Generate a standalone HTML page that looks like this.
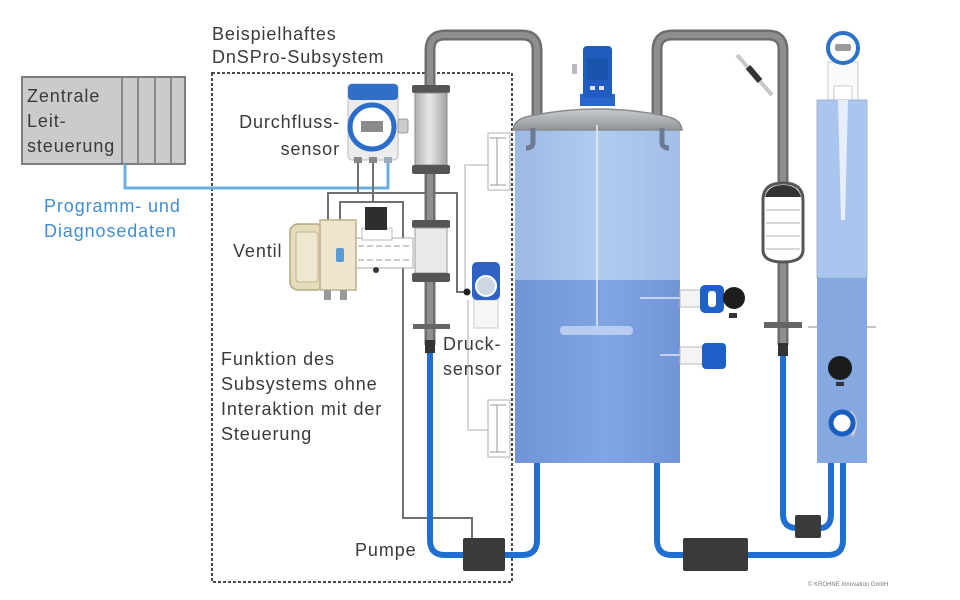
<!DOCTYPE html>
<html><head><meta charset="utf-8"><style>
html,body{margin:0;padding:0;background:#fff;}
svg{display:block;}
text{font-family:"Liberation Sans",Arial,sans-serif;font-size:18px;fill:#3a3a3a;letter-spacing:0.9px;}
.b{fill:#3f8fd6;}
</style></head><body>
<svg width="960" height="600" viewBox="0 0 960 600" xmlns="http://www.w3.org/2000/svg">
<defs>
<linearGradient id="tu" x1="0" x2="1" y1="0" y2="0"><stop offset="0" stop-color="#9cb8e4"/><stop offset="0.5" stop-color="#b2cbef"/><stop offset="1" stop-color="#a2bde8"/></linearGradient>
<linearGradient id="tl" x1="0" x2="1" y1="0" y2="0"><stop offset="0" stop-color="#7094d4"/><stop offset="0.55" stop-color="#81a5e4"/><stop offset="1" stop-color="#7195d6"/></linearGradient>
<linearGradient id="fm" x1="0" x2="1" y1="0" y2="0"><stop offset="0" stop-color="#b0b0b0"/><stop offset="0.45" stop-color="#e8e8e8"/><stop offset="1" stop-color="#a2a2a2"/></linearGradient>
<linearGradient id="lid" x1="0" x2="0" y1="0" y2="1"><stop offset="0" stop-color="#c9ccd0"/><stop offset="1" stop-color="#8f949a"/></linearGradient>
</defs>

<!-- dashed subsystem box -->
<rect x="212" y="73" width="300" height="509" fill="none" stroke="#4a4a4a" stroke-width="2" stroke-dasharray="3 2"/>

<!-- central control -->
<rect x="22" y="77" width="163" height="87" fill="#cbcbcb" stroke="#7e7e7e" stroke-width="2"/>
<g stroke="#8a8a8a" stroke-width="2">
<line x1="122" y1="78" x2="122" y2="163"/><line x1="138" y1="78" x2="138" y2="163"/>
<line x1="155" y1="78" x2="155" y2="163"/><line x1="171" y1="78" x2="171" y2="163"/>
</g>
<path d="M125 164 V188 H388 V160" fill="none" stroke="#6aaee0" stroke-width="3"/>

<!-- grey signal lines -->
<g fill="none" stroke="#6f6f6f" stroke-width="2">
<path d="M358 160 V193"/><path d="M328 225 V193 H457 V292 H468"/>
<path d="M373 160 V202"/><path d="M340 222 V202 H403 V518 H472 V538"/>
</g>
<path d="M490 165 H465 V292 M468 300 V430 H490" fill="none" stroke="#c9c9c9" stroke-width="1.5"/>

<!-- level switches -->
<g fill="#fff" stroke="#bdbdbd" stroke-width="1.2">
<rect x="488" y="133" width="22" height="57"/><rect x="488" y="400" width="22" height="57"/>
</g>
<g stroke="#999" stroke-width="1">
<line x1="497" y1="138" x2="497" y2="185"/><line x1="490" y1="138" x2="506" y2="138"/><line x1="490" y1="185" x2="506" y2="185"/>
<line x1="497" y1="405" x2="497" y2="452"/><line x1="490" y1="405" x2="506" y2="405"/><line x1="490" y1="452" x2="506" y2="452"/>
</g>

<!-- blue pipes -->
<g fill="none" stroke="#1f6fd1" stroke-width="6">
<path d="M430 352 V540 Q430 555 445 555 H463"/>
<path d="M505 555 H522 Q537 555 537 540 V462"/>
<path d="M657 462 V540 Q657 555 672 555 H683"/>
<path d="M748 555 H828 Q843 555 843 540 V462"/>
<path d="M783 355 V514 Q783 528 797 528"/>
<path d="M820 528 H820 Q831 528 831 514 V462"/>
</g>

<!-- grey pipes -->
<g fill="none" stroke-linejoin="round">
<path d="M430 345 V50 Q430 35 445 35 H522 Q537 35 537 50 V118" stroke="#6e6e6e" stroke-width="11"/>
<path d="M430 345 V50 Q430 35 445 35 H522 Q537 35 537 50 V118" stroke="#8e8e8e" stroke-width="6"/>
<path d="M657 118 V50 Q657 35 672 35 H768 Q783 35 783 50 V345" stroke="#6e6e6e" stroke-width="11"/>
<path d="M657 118 V50 Q657 35 672 35 H768 Q783 35 783 50 V345" stroke="#8e8e8e" stroke-width="6"/>
</g>
<rect x="425" y="340" width="10" height="13" fill="#333"/>
<rect x="778" y="343" width="10" height="13" fill="#333"/>

<!-- flow meter body -->
<rect x="412" y="85" width="38" height="8" rx="2" fill="#555"/>
<rect x="415" y="93" width="32" height="72" fill="url(#fm)" stroke="#888" stroke-width="1"/>
<rect x="412" y="165" width="38" height="9" rx="2" fill="#555"/>
<!-- valve body -->
<rect x="412" y="220" width="38" height="8" rx="2" fill="#555"/>
<rect x="415" y="228" width="32" height="45" fill="#eaeaea" stroke="#999" stroke-width="1"/>
<rect x="412" y="273" width="38" height="9" rx="2" fill="#555"/>
<!-- lower flange -->
<rect x="413" y="324" width="37" height="5" fill="#666"/>

<!-- valve actuator -->
<rect x="356" y="238" width="57" height="30" fill="#fff" stroke="#aaa" stroke-width="1"/>
<g stroke="#999" stroke-width="1" stroke-dasharray="6 3"><line x1="358" y1="246" x2="410" y2="246"/><line x1="358" y1="260" x2="410" y2="260"/></g>
<rect x="290" y="224" width="34" height="66" rx="8" fill="#e6dcbb" stroke="#b3a680" stroke-width="1.5"/>
<rect x="296" y="232" width="22" height="50" rx="3" fill="#efe8d0" stroke="#c2b690"/>
<rect x="320" y="220" width="36" height="70" fill="#eee7ce" stroke="#bdb08a" stroke-width="1.5"/>
<rect x="336" y="248" width="8" height="14" rx="2" fill="#5b9bd5"/>
<rect x="324" y="290" width="7" height="10" fill="#999"/><rect x="340" y="290" width="7" height="10" fill="#999"/>
<rect x="362" y="228" width="30" height="12" fill="#fff" stroke="#bbb"/>
<rect x="365" y="207" width="22" height="23" fill="#2e2e2e"/>
<circle cx="376" cy="270" r="3" fill="#333"/>

<!-- flow transmitter -->
<rect x="348" y="84" width="50" height="76" rx="4" fill="#ececec" stroke="#bdbdbd"/>
<rect x="348" y="84" width="50" height="16" rx="4" fill="#2f6fc8"/>
<rect x="398" y="119" width="10" height="14" rx="2" fill="#ccc" stroke="#999"/>
<circle cx="372" cy="127" r="22" fill="#fff" stroke="#2a6dc8" stroke-width="5"/>
<rect x="361" y="121" width="22" height="11" fill="#8a8a8a"/>
<rect x="354" y="157" width="8" height="6" fill="#888"/><rect x="369" y="157" width="8" height="6" fill="#888"/><rect x="384" y="157" width="8" height="6" fill="#9ab"/>

<!-- pressure sensor -->
<rect x="474" y="300" width="24" height="28" fill="#f6f6f6" stroke="#ccc"/>
<rect x="472" y="262" width="28" height="38" rx="5" fill="#3061c4"/>
<circle cx="486" cy="286" r="10" fill="#cfd6e4" stroke="#fff" stroke-width="2"/>
<circle cx="467" cy="292" r="3.5" fill="#222"/>

<!-- pumps -->
<rect x="463" y="538" width="42" height="33" rx="2" fill="#3a3a3a"/>
<rect x="683" y="538" width="65" height="33" rx="2" fill="#3a3a3a"/>
<rect x="795" y="515" width="26" height="23" rx="2" fill="#3a3a3a"/>

<!-- main tank -->
<rect x="515" y="122" width="165" height="158" fill="url(#tu)"/>
<rect x="515" y="280" width="165" height="183" fill="url(#tl)"/>
<path d="M513 130 Q514 119 530 116 Q597 102 665 116 Q681 119 682 130 Z" fill="url(#lid)" stroke="#8a8a8a" stroke-width="1.5"/>
<path d="M533 128 V142 Q533 148 526 148" fill="none" stroke="#6d7a90" stroke-width="5"/>
<path d="M662 128 V142 Q662 148 669 148" fill="none" stroke="#6d7a90" stroke-width="5"/>
<line x1="597" y1="125" x2="597" y2="328" stroke="#e6eefa" stroke-width="1.5"/>
<rect x="560" y="326" width="73" height="9" rx="4" fill="#b9cbee"/>
<!-- motor -->
<rect x="580" y="94" width="35" height="12" fill="#2a67cc"/>
<rect x="583" y="46" width="29" height="52" rx="4" fill="#1e5cc0"/>
<rect x="587" y="58" width="21" height="22" fill="#184f9e" opacity="0.6"/>
<rect x="590" y="86" width="5" height="4" fill="#dde"/><rect x="599" y="86" width="5" height="4" fill="#dde"/>
<rect x="572" y="64" width="5" height="10" fill="#bbb"/>

<!-- side sensors -->
<line x1="640" y1="298" x2="682" y2="298" stroke="#dde6f5" stroke-width="1.5"/>
<rect x="680" y="290" width="22" height="17" fill="#f4f4f4" stroke="#bbb"/>
<rect x="700" y="285" width="24" height="28" rx="5" fill="#1f5fc8"/>
<rect x="708" y="291" width="8" height="16" rx="3" fill="#fff"/>
<circle cx="734" cy="298" r="11" fill="#1e1e1e"/>
<rect x="729" y="313" width="8" height="5" fill="#333"/>
<line x1="660" y1="355" x2="682" y2="355" stroke="#dde6f5" stroke-width="1.5"/>
<rect x="680" y="347" width="24" height="17" fill="#f4f4f4" stroke="#bbb"/>
<rect x="702" y="343" width="24" height="26" rx="4" fill="#1f5fc8"/>

<!-- filter on right pipe -->
<path d="M763 200 Q763 183 783 183 Q803 183 803 200 V250 Q803 262 783 262 Q763 262 763 250 Z" fill="#fff" stroke="#555" stroke-width="3"/>
<path d="M765 197 Q768 185 783 185 Q798 185 801 197 Z" fill="#333"/>
<g stroke="#ccc" stroke-width="1.5"><line x1="766" y1="210" x2="800" y2="210"/><line x1="766" y1="223" x2="800" y2="223"/><line x1="766" y1="236" x2="800" y2="236"/><line x1="766" y1="249" x2="800" y2="249"/></g>
<rect x="764" y="322" width="38" height="6" fill="#666"/>
<line x1="808" y1="327" x2="876" y2="327" stroke="#888" stroke-width="1"/>

<!-- diagonal small sensor -->
<line x1="737" y1="55" x2="772" y2="95" stroke="#c8c8c8" stroke-width="4"/>
<line x1="748" y1="67" x2="760" y2="81" stroke="#333" stroke-width="6"/>

<!-- right column -->
<rect x="828" y="62" width="30" height="38" fill="#fafafa" stroke="#c8c8c8"/>
<rect x="834" y="86" width="18" height="14" fill="#fff" stroke="#ccc"/>
<circle cx="843" cy="48" r="15" fill="#fff" stroke="#2a73c8" stroke-width="4"/>
<rect x="835" y="44" width="16" height="7" rx="2" fill="#999"/>
<rect x="817" y="100" width="50" height="178" fill="#aac6ee" stroke="#a0b3cf" stroke-width="1"/>
<rect x="817" y="278" width="50" height="185" fill="#86a8e0"/>
<path d="M838 100 L848 100 L845 220 L841 220 Z" fill="#e6eefb"/>
<circle cx="840" cy="368" r="12" fill="#1b1b1b"/>
<rect x="836" y="382" width="8" height="4" fill="#333"/>
<path d="M850 412 Q860 420 852 436" fill="none" stroke="#ccc" stroke-width="3"/>
<circle cx="842" cy="423" r="11" fill="#fff" stroke="#1a5fc0" stroke-width="5"/>

<!-- texts -->
<text x="212" y="40">Beispielhaftes</text>
<text x="212" y="63">DnSPro-Subsystem</text>
<text x="27" y="102">Zentrale</text>
<text x="27" y="127">Leit-</text>
<text x="27" y="152">steuerung</text>
<text class="b" x="44" y="212">Programm- und</text>
<text class="b" x="44" y="237">Diagnosedaten</text>
<text x="340" y="128" text-anchor="end">Durchfluss-</text>
<text x="340" y="155" text-anchor="end">sensor</text>
<text x="233" y="257">Ventil</text>
<text x="221" y="365">Funktion des</text>
<text x="221" y="390">Subsystems ohne</text>
<text x="221" y="415">Interaktion mit der</text>
<text x="221" y="440">Steuerung</text>
<text x="443" y="350">Druck-</text>
<text x="443" y="375">sensor</text>
<text x="355" y="556">Pumpe</text>
<text x="808" y="586" style="font-size:6px;fill:#777;letter-spacing:0">© KROHNE Innovation GmbH</text>
</svg>
</body></html>
